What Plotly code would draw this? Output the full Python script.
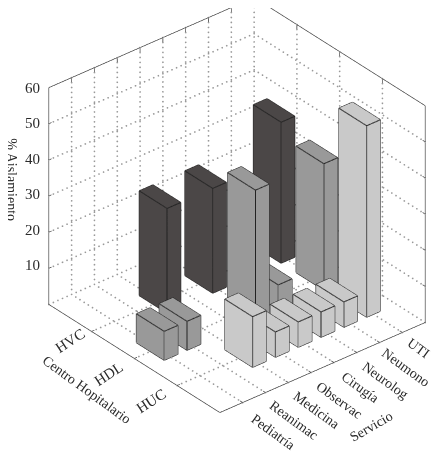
import plotly.graph_objects as go

services = ["Pediatría", "Reanimac", "Medicina", "Observac", "Cirugía", "Neurolog", "Neumono", "UTI"]
centres = ["HUC", "HDL", "HVC"]
z_ticks = [10, 20, 30, 40, 50, 60]

huc_values = [None, None, 14, 7, 7, 7, 7, 53]
hdl_values = [8, 8, None, None, 36, 7, None, 35]
hvc_values = [None, None, 29, None, 29, None, None, 39]

series = [("HUC", huc_values, "#c9c9c9"), ("HDL", hdl_values, "#999999"), ("HVC", hvc_values, "#4b4747")]

X_MAX, Y_MAX, Z_MAX = len(services) + 1, len(centres) + 1, 60
BAR_W, BAR_D = 0.60, 0.65
LINE = "#333333"
GRID = "#999999"
FONT = "Liberation Serif"
DOT_STEP_PX = 5.0
PX = (228.0, 207.0, 222.0)  # rough on-screen length of each axis, sets dot spacing

fig = go.Figure()

def segs(pairs):
    xs, ys, zs = [], [], []
    for a, b in pairs:
        xs += [a[0], b[0], None]
        ys += [a[1], b[1], None]
        zs += [a[2], b[2], None]
    return xs, ys, zs

def add_lines(pairs, color, width):
    xs, ys, zs = segs(pairs)
    fig.add_trace(go.Scatter3d(x=xs, y=ys, z=zs, mode="lines", hoverinfo="skip", showlegend=False,
                               line=dict(color=color, width=width)))

def add_dots(pairs, color):
    spans = (X_MAX, Y_MAX, Z_MAX)
    xs, ys, zs = [], [], []
    for a, b in pairs:
        length = sum((abs(b[k] - a[k]) / spans[k] * PX[k]) for k in range(3))
        n = max(int(length / DOT_STEP_PX), 1)
        for t in range(n + 1):
            f = t / n
            xs.append(a[0] + (b[0] - a[0]) * f)
            ys.append(a[1] + (b[1] - a[1]) * f)
            zs.append(a[2] + (b[2] - a[2]) * f)
    fig.add_trace(go.Scatter3d(x=xs, y=ys, z=zs, mode="markers", hoverinfo="skip", showlegend=False,
                               marker=dict(color=color, size=1, line=dict(width=0))))

# dotted grid on floor and back walls
grid = []
for i in range(1, X_MAX + 1):
    if i < X_MAX:
        grid.append(((i, 0, 0), (i, Y_MAX, 0)))
    grid.append(((i, Y_MAX, 0), (i, Y_MAX, Z_MAX)))
for j in range(1, Y_MAX + 1):
    if j < Y_MAX:
        grid.append(((0, j, 0), (X_MAX, j, 0)))
    grid.append(((X_MAX, j, 0), (X_MAX, j, Z_MAX)))
for z in z_ticks[:-1]:
    grid.append(((0, Y_MAX, z), (X_MAX, Y_MAX, z)))
    grid.append(((X_MAX, 0, z), (X_MAX, Y_MAX, z)))
grid.append(((0, Y_MAX, 0), (X_MAX, Y_MAX, 0)))
grid.append(((X_MAX, 0, 0), (X_MAX, Y_MAX, 0)))
add_dots(grid, GRID)

# solid box frame
frame = [
    ((0, 0, 0), (X_MAX, 0, 0)), ((0, 0, 0), (0, Y_MAX, 0)),
    ((0, Y_MAX, 0), (0, Y_MAX, Z_MAX)), ((X_MAX, 0, 0), (X_MAX, 0, Z_MAX)),
    ((0, Y_MAX, Z_MAX), (X_MAX, Y_MAX, Z_MAX)), ((X_MAX, 0, Z_MAX), (X_MAX, Y_MAX, Z_MAX)),
]
ticks = []
for i in range(1, X_MAX):
    ticks.append(((i, 0, 0), (i, 0.06, 0)))
    ticks.append(((i, Y_MAX, Z_MAX), (i, Y_MAX, Z_MAX - 1.2)))
for j in range(1, Y_MAX):
    ticks.append(((0, j, 0), (0.12, j, 0)))
    ticks.append(((X_MAX, j, Z_MAX), (X_MAX, j, Z_MAX - 1.2)))
for z in z_ticks[:-1]:
    ticks.append(((0, Y_MAX, z), (0.12, Y_MAX, z)))
    ticks.append(((X_MAX, 0, z), (X_MAX, 0.06, z)))
add_lines(frame + ticks, LINE, 1.3)

# bars
FACES = [(0,1,2),(0,2,3),(4,5,6),(4,6,7),(0,1,5),(0,5,4),(1,2,6),(1,6,5),(2,3,7),(2,7,6),(3,0,4),(3,4,7)]
EDGES = [(0,1),(1,2),(2,3),(3,0),(4,5),(5,6),(6,7),(7,4),(0,4),(1,5),(2,6),(3,7)]
for row, (name, values, color) in enumerate(series, start=1):
    vx, vy, vz, fi, fj, fk, edges = [], [], [], [], [], [], []
    for col, v in enumerate(values, start=1):
        if v is None:
            continue
        x0, x1 = col - BAR_W / 2, col + BAR_W / 2
        y0, y1 = row - BAR_D / 2, row + BAR_D / 2
        base = len(vx)
        corners = [(x0,y0,0),(x1,y0,0),(x1,y1,0),(x0,y1,0),(x0,y0,v),(x1,y0,v),(x1,y1,v),(x0,y1,v)]
        for c in corners:
            vx.append(c[0]); vy.append(c[1]); vz.append(c[2])
        for a, b, c in FACES:
            fi.append(base + a); fj.append(base + b); fk.append(base + c)
        edges += [(corners[a], corners[b]) for a, b in EDGES]
    fig.add_trace(go.Mesh3d(x=vx, y=vy, z=vz, i=fi, j=fj, k=fk, color=color, flatshading=True, name=name,
                            hoverinfo="skip", showlegend=False,
                            lighting=dict(ambient=1, diffuse=0, specular=0, roughness=1, fresnel=0)))
    add_lines(edges, "#222222", 2)

def label(text, x, y, z, dx, dy, angle=0, size=14, anchor="center"):
    return dict(text=text, x=x, y=y, z=z, xshift=dx, yshift=-dy, textangle=angle, showarrow=False,
                xanchor=anchor, yanchor="middle", font=dict(family=FONT, size=size, color="#2a2a2a"))

ann = []
for i, s in enumerate(services, start=1):
    n = len(s)
    ann.append(label(s, i, 0, 0, 9.5 + 2.4 * n, 8.3 + 2.4 * n, 36))
centre_shift = {"HUC": (-26, 15), "HDL": (-26, 15), "HVC": (-22, 9)}
for j, c in enumerate(centres, start=1):
    ann.append(label(c, 0, j, 0, centre_shift[c][0], centre_shift[c][1], -33, 15))
ann.append(label("Servicio", X_MAX / 2, 0, 0, 49, 59, -30))
ann.append(label("Centro Hopitalario", 0, Y_MAX / 2, 0, -48, 31, 36))
for z in z_ticks:
    ann.append(label(str(z), 0, Y_MAX, z, -7, -3 + 0.06 * z - 0.5, 0, 15, "right"))
ann.append(label("% Aislamiento", 0, Y_MAX, 30, -37, -16, 90, 14))

def axis(rng):
    return dict(visible=False, range=rng, showspikes=False, showgrid=False, zeroline=False, showbackground=False)

D = 1.75
SHIFT_Z = -0.04
fig.update_layout(
    width=441, height=456, margin=dict(l=0, r=0, t=0, b=0), paper_bgcolor="white", showlegend=False,
    hovermode=False,
    scene=dict(
        domain=dict(x=[0.05, 0.988], y=[0.105, 1]),
        xaxis=axis([0, X_MAX]), yaxis=axis([0, Y_MAX]), zaxis=axis([0, Z_MAX]),
        aspectmode="manual", aspectratio=dict(x=1.31, y=1.31, z=1.25),
        dragmode=False,
        camera=dict(projection=dict(type="orthographic"), up=dict(x=0, y=0, z=1),
                    center=dict(x=0, y=0, z=SHIFT_Z),
                    eye=dict(x=-0.544 * D, y=-0.653 * D, z=0.5266 * D + SHIFT_Z)),
        annotations=ann,
    ),
)
fig.write_html("out.html", config={"displayModeBar": False})
